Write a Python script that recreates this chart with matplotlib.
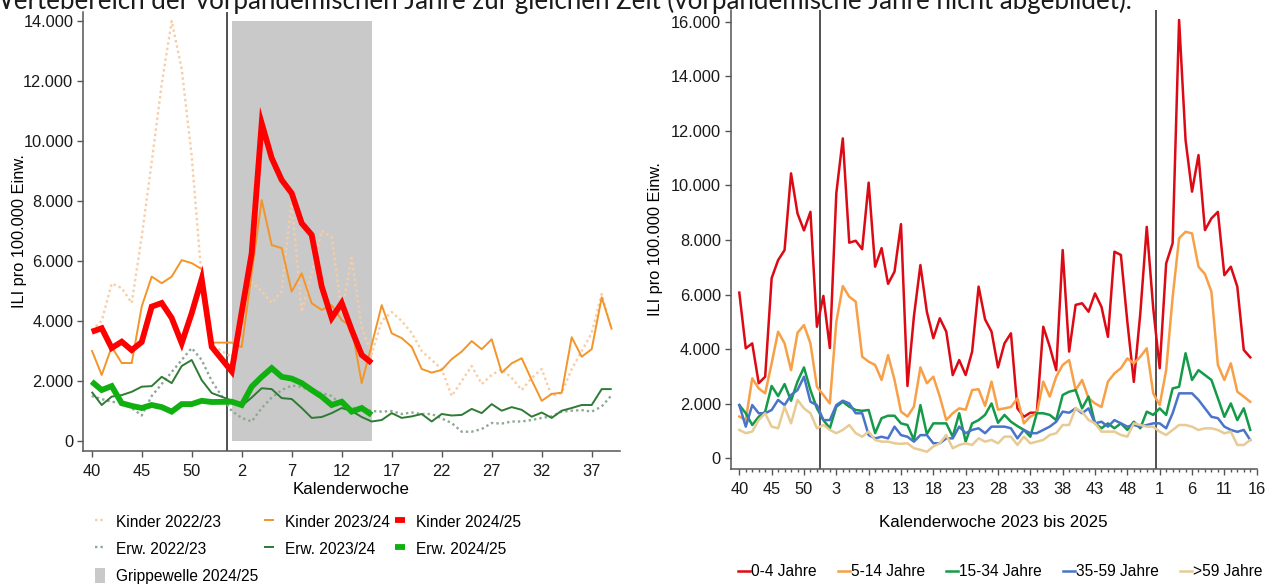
import matplotlib
matplotlib.use('Agg')
import matplotlib.pyplot as plt
import numpy as np
from matplotlib.patches import Patch
from matplotlib.ticker import FuncFormatter

plt.rcParams['font.family'] = ['Liberation Sans', 'DejaVu Sans']
plt.rcParams['font.size'] = 11.8

# ---- left chart: season weeks 40..53, 1..39 (week 53 not present in these seasons)
weeks_season = list(range(40, 54)) + list(range(1, 40))

kinder_2223 = [3700, 4000, 5250, 5100, 4600, 6800, 9300, 11900, 14000, 12400, 9500, 5400, 3200, None,
               2800, 4100, 5300, 5000, 4600, 5000, 8000, 4300, 5600, 7000, 6800, 4300, 6100, 3800, 2900,
               4000, 4300, 4000, 3600, 3000, 2700, 2400, 1500, 2000, 2500, 1900, 2200, 2400, 2100, 1700,
               2100, 2400, 1500, 1600, 2400, 3000, 3600, 4900, 3700]
kinder_2324 = [3030, 2200, 3140, 2600, 2600, 4480, 5480, 5260, 5480, 6030, 5930, 5730, 3280, None,
               3280, 3130, 5600, 8030, 6530, 6430, 4980, 5590, 4590, 4370, 4530, 4030, 3810, 1930, 3200,
               4530, 3590, 3430, 3140, 2400, 2280, 2370, 2730, 2980, 3330, 3060, 3390, 2280, 2590, 2760,
               2030, 1340, 1570, 1610, 3460, 2810, 3060, 4790, 3730]
kinder_2425 = [3640, 3760, 3100, 3310, 3030, 3300, 4480, 4600, 4100, 3260, 4260, 5400, 3140, None,
               2320, 4300, 6260, 10590, 9430, 8700, 8260, 7260, 6870, 5150, 4100, 4600, 3700, 2870, 2600]
erw_2223 = [1500, 1400, 1300, 1300, 1100, 850, 1500, 1900, 2300, 2700, 3100, 2700, 2000, None,
            1000, 770, 650, 1100, 1450, 1700, 1850, 1800, 1650, 1600, 1500, 1200, 1100, 1100, 1000,
            980, 1000, 900, 950, 900, 900, 750, 600, 310, 310, 400, 600, 580, 650, 650,
            700, 770, 820, 980, 1010, 1030, 980, 1150, 1530]
erw_2324 = [1640, 1200, 1480, 1530, 1640, 1810, 1830, 2140, 1930, 2500, 2700, 2030, 1600, None,
            1350, 1170, 1450, 1760, 1730, 1430, 1400, 1100, 770, 800, 930, 1100, 1000, 800, 650,
            700, 930, 770, 820, 900, 650, 900, 850, 870, 1070, 930, 1230, 1010, 1130, 1040,
            810, 950, 770, 1010, 1100, 1200, 1200, 1730, 1730]
erw_2425 = [1980, 1700, 1830, 1260, 1170, 1100, 1200, 1130, 980, 1230, 1230, 1340, 1300, None,
            1310, 1200, 1810, 2140, 2430, 2140, 2080, 1930, 1700, 1480, 1200, 1310, 980, 1100, 870]

grippe_start_week = 1
grippe_end_week = 15
grippe_top = 14000

# ---- right chart: KW 40/2023 .. KW 16/2025
weeks_23_25 = list(range(40, 53)) + list(range(1, 53)) + list(range(1, 17))

age_0_4 = [6070, 4030, 4210, 2750, 2990, 6600, 7260, 7630, 10440, 8970,
           8350, 9030, 4820, 5950, 4040, 9710, 11720, 7900, 7970, 7660,
           10100, 7020, 7700, 6390, 6840, 8580, 2650, 5200, 7080, 5370,
           4400, 5130, 4640, 3050, 3600, 3050, 3910, 6290, 5090, 4640,
           3330, 4210, 4580, 1830, 1520, 1670, 1670, 4820, 4090, 3230,
           7630, 3910, 5620, 5680, 5370, 6040, 5550, 4450, 7570, 7450,
           5000, 2800, 5300, 8480, 5500, 3300, 7140, 7880, 16060, 11660,
           9770, 11110, 8360, 8790, 9030, 6710, 7020, 6290, 3970, 3700]
age_5_14 = [1530, 1400, 2930, 2560, 2380, 3480, 4640, 4210, 3230, 4600,
            4880, 4210, 2620, 2320, 2010, 5000, 6310, 5920, 5740, 3720,
            3540, 3420, 2870, 3780, 2870, 1710, 1530, 1890, 3330, 2750,
            2990, 2260, 1400, 1650, 1830, 1780, 2500, 2530, 1920, 2810,
            1780, 1830, 1880, 2200, 1280, 1530, 1650, 2810, 2260, 2990,
            3420, 3600, 2500, 2870, 2200, 2010, 1880, 2810, 3110, 3300,
            3660, 3480, 3720, 4030, 2380, 1950, 3230, 5900, 8060, 8300,
            8240, 7020, 6750, 6100, 3420, 2870, 3480, 2440, 2260, 2070]
age_15_34 = [1950, 1650, 1220, 1520, 1710, 2650, 2280, 2720, 2110, 2810,
             3330, 2500, 1830, 1400, 1100, 1890, 2070, 1890, 1770, 1740,
             1770, 920, 1470, 1560, 1560, 1280, 1220, 670, 1950, 890,
             1280, 1280, 1280, 790, 1650, 610, 1280, 1400, 1590, 2010,
             1300, 1590, 1340, 1180, 1040, 790, 1650, 1650, 1590, 1400,
             2320, 2440, 2500, 1830, 2260, 1280, 1100, 1280, 1100, 1280,
             1040, 1340, 1100, 1710, 1590, 1830, 1590, 2560, 2620, 3850,
             2870, 3230, 3050, 2870, 2200, 1520, 2010, 1400, 1830, 1040]
age_35_59 = [1950, 1160, 1950, 1650, 1650, 1770, 2140, 1950, 2320, 2500,
             2990, 2070, 1950, 1400, 1400, 1950, 2110, 2010, 1650, 1650,
             850, 730, 790, 730, 1160, 850, 790, 610, 850, 850,
             550, 550, 730, 730, 1160, 920, 1040, 1100, 920, 1160,
             1160, 1160, 1100, 730, 1040, 920, 920, 1040, 1160, 1340,
             1710, 1670, 1830, 1650, 1830, 1280, 1340, 1160, 1400, 1280,
             1160, 1220, 1160, 1220, 1280, 1280, 1100, 1650, 2380, 2380,
             2380, 2140, 1830, 1520, 1470, 1160, 1040, 970, 1040, 670]
age_60plus = [1040, 920, 980, 1400, 1650, 1160, 1100, 1890, 1280, 2140,
              1830, 1650, 1100, 1220, 1040, 920, 1040, 1220, 920, 790,
              980, 670, 610, 610, 550, 530, 550, 370, 310, 240,
              430, 550, 855, 366, 488, 549, 488, 733, 610, 672,
              549, 793, 793, 488, 793, 549, 610, 672, 855, 916,
              1220, 1220, 1831, 1709, 1403, 1282, 976, 976, 976, 855,
              793, 1282, 1220, 1159, 1159, 976, 855, 1037, 1220, 1220,
              1159, 1037, 1098, 1098, 1037, 916, 976, 488, 488, 672]

age_labels = ['0-4 Jahre', '5-14 Jahre', '15-34 Jahre', '35-59 Jahre', '>59 Jahre']
age_colors = ['#dc0a14', '#f7a048', '#149a48', '#4a74c8', '#e8cb94']

W, H = 1272, 584
fig = plt.figure(figsize=(W / 100, H / 100), dpi=100)

fig.text(-13 / W, 1 - 9.5 / H,
         'Wertebereich der vorpandemischen Jahre zur gleichen Zeit (vorpandemische Jahre nicht abgebildet).',
         fontsize=18.6, family=['Lato', 'DejaVu Sans'], va='baseline', ha='left', color='#1a1a1a')

thousands = FuncFormatter(lambda v, _: f'{v:,.0f}'.replace(',', '.'))
axis_col = '#555555'
leg_fs = 11.2
lab_fs = 12.2


def style_axes(ax):
    for s in ['top', 'right']:
        ax.spines[s].set_visible(False)
    for s in ['left', 'bottom']:
        ax.spines[s].set_color(axis_col)
        ax.spines[s].set_linewidth(1.1)
    ax.tick_params(which='major', length=4, width=1, color=axis_col, labelcolor='#1a1a1a',
                   labelsize=11.8)
    ax.tick_params(axis='y', pad=3)
    ax.tick_params(axis='x', pad=5)
    ax.yaxis.set_major_formatter(thousands)


# ================= left =================
ax1 = fig.add_axes([83 / W, 1 - 451 / H, (620 - 83) / W, (451 - 12) / H])
xs = np.arange(len(weeks_season))


def draw_season(ax, vals, **kw):
    v = np.array([np.nan if a is None else a for a in vals], dtype=float)
    x = xs[:len(v)]
    ok = ~np.isnan(v)
    return ax.plot(x[ok], v[ok], **kw)[0]


g0 = weeks_season.index(grippe_start_week)
g1 = weeks_season.index(grippe_end_week)
ax1.fill_between([g0, g1], 0, grippe_top, color='#c9c9c9', lw=0, zorder=0.5)
ax1.axvline(weeks_season.index(1) - 0.5, color='#333333', lw=1.2, zorder=1.5)

dot = (0, (1, 1.3))
h_k22 = draw_season(ax1, kinder_2223, color='#f8cca4', lw=1.7, ls=dot, zorder=2)
h_e22 = draw_season(ax1, erw_2223, color='#8ea893', lw=1.7, ls=dot, zorder=2)
h_k23 = draw_season(ax1, kinder_2324, color='#f39528', lw=1.4, zorder=3, solid_capstyle='butt')
h_e23 = draw_season(ax1, erw_2324, color='#2f7a34', lw=1.4, zorder=3, solid_capstyle='butt')
h_k24 = draw_season(ax1, kinder_2425, color='#ff0000', lw=4.2, zorder=4,
                    solid_joinstyle='miter', solid_capstyle='butt')
h_e24 = draw_season(ax1, erw_2425, color='#10b010', lw=4.2, zorder=4,
                    solid_joinstyle='miter', solid_capstyle='butt')
h_grip = Patch(facecolor='#c9c9c9', edgecolor='none')

ax1.set_xlim(-0.87, 52.83)
ax1.set_ylim(-333, 14300)
ax1.set_yticks(np.arange(0, 14001, 2000))
ax1.set_xticks(xs[::5])
ax1.set_xticklabels([str(weeks_season[i]) for i in xs[::5]])
style_axes(ax1)
ax1.set_xlabel('Kalenderwoche', fontsize=lab_fs)
ax1.xaxis.set_label_coords(0.5, -0.071)
ax1.set_ylabel('ILI pro 100.000 Einw.', fontsize=11.8)
ax1.yaxis.set_label_coords(-0.104, 0.5)

fig.legend([h_k22, h_e22, h_grip, h_k23, h_e23, h_k24, h_e24],
           ['Kinder 2022/23', 'Erw. 2022/23', 'Grippewelle 2024/25',
            'Kinder 2023/24', 'Erw. 2023/24', 'Kinder 2024/25', 'Erw. 2024/25'],
           loc='upper left', bbox_to_anchor=(95 / W, 1 - 514 / H), ncol=3, frameon=False,
           handlelength=0.65, handleheight=1.1, handletextpad=0.7, columnspacing=0.35,
           labelspacing=0.72, borderaxespad=0, borderpad=0, fontsize=leg_fs)

# ================= right =================
ax2 = fig.add_axes([730.7 / W, 1 - 469 / H, (1256.7 - 730.7) / W, (469 - 10) / H])
xr = np.arange(len(weeks_23_25))
age_series = [age_0_4, age_5_14, age_15_34, age_35_59, age_60plus]
handles = []
for vals, col, lab in zip(age_series, age_colors, age_labels):
    handles.append(ax2.plot(xr[:len(vals)], vals, color=col, lw=1.8, label=lab)[0])

for i, w in enumerate(weeks_23_25):
    if w == 1 and i > 0:
        ax2.axvline(i - 0.5, color='#333333', lw=1.2, zorder=1.5)

ax2.set_xlim(-1.33, 80.0)
ax2.set_ylim(-392, 16425)
ax2.set_yticks(np.arange(0, 16001, 2000))
ax2.set_xticks(xr[::5])
ax2.set_xticklabels([str(weeks_23_25[i]) for i in xr[::5]])
ax2.set_xticks(xr, minor=True)
style_axes(ax2)
ax2.tick_params(which='major', axis='x', length=4.3)
ax2.tick_params(which='minor', axis='x', length=2.5, width=1, color=axis_col)
ax2.set_xlabel('Kalenderwoche 2023 bis 2025', fontsize=lab_fs)
ax2.xaxis.set_label_coords(0.5, -0.1)
ax2.set_ylabel('ILI pro 100.000 Einw.', fontsize=11.8)
ax2.yaxis.set_label_coords(-0.129, 0.5)

fig.legend(handles, age_labels, loc='center left', bbox_to_anchor=(738 / W, 1 - 572 / H),
           ncol=5, frameon=False, handlelength=0.75, handletextpad=0.1, columnspacing=1.35,
           borderaxespad=0, borderpad=0, fontsize=leg_fs)

fig.savefig('out.png', dpi=100)
